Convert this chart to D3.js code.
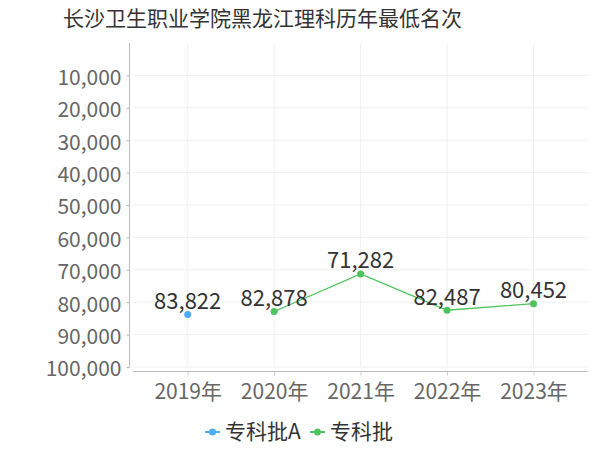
<!DOCTYPE html>
<html><head><meta charset="utf-8">
<script src="https://cdn.jsdelivr.net/npm/d3@7/dist/d3.min.js"></script>
<style>body{margin:0;background:#fff;} svg{display:block;}</style>
</head><body><svg id="c" width="600" height="450"></svg>
<script>
const title = "长沙卫生职业学院黑龙江理科历年最低名次";
const categories = ["2019年","2020年","2021年","2022年","2023年"];
const seriesNames = ["专科批A","专科批"];
const seriesA = [83822, null, null, null, null];
const seriesB = [null, 82878, 71282, 82487, 80452];
const yTicks = [10000,20000,30000,40000,50000,60000,70000,80000,90000,100000];
const colors = ["#4dabf7","#4cc35c"];

(function(){
const font = "'Noto Sans CJK SC','DejaVu Sans',sans-serif";
const svg = d3.select("#c");
const pLeft = 133, pRight = 588, pTop = 43, pBottom = 367;

const x = d3.scalePoint().domain(categories).range([187.7, 533.5]);
const y = d3.scaleLinear().domain([0, 100000]).range([pTop, pBottom]);

// title
svg.append("text").attr("x", 63).attr("y", 26).attr("font-size", 21)
  .attr("font-family", font).attr("fill", "#333").text(title);

// grid
const g = svg.append("g");
g.selectAll(".hg").data(yTicks).join("line")
  .attr("x1", pLeft).attr("x2", pRight).attr("y1", d => y(d)).attr("y2", d => y(d))
  .attr("stroke", "#f0f0f0").attr("stroke-width", 1);
g.selectAll(".vg").data(categories).join("line")
  .attr("x1", d => x(d)).attr("x2", d => x(d)).attr("y1", pTop).attr("y2", pBottom)
  .attr("stroke", "#f0f0f0").attr("stroke-width", 1);

// y axis
const yAxis = d3.axisLeft(y).tickValues(yTicks).tickSize(3).tickPadding(5)
  .tickFormat(d3.format(","));
const ya = svg.append("g").attr("transform", "translate(129.5,0)").call(yAxis);
ya.select(".domain").attr("stroke", "#bbb").attr("d", `M0,${pTop}V${pBottom}`);
ya.selectAll(".tick line").attr("stroke", "#bbb");
ya.selectAll(".tick text").attr("font-size", 21).attr("font-family", font)
  .attr("fill", "#666").attr("dy", "0.42em");

// x axis
const xAxis = d3.axisBottom(x).tickSize(4).tickPadding(8.5);
const xa = svg.append("g").attr("transform", "translate(0,371.5)").call(xAxis);
xa.select(".domain").attr("stroke", "#bbb").attr("d", `M${pLeft},0H${pRight}`);
xa.selectAll(".tick line").attr("stroke", "#ccc");
xa.selectAll(".tick text").attr("font-size", 21).attr("font-family", font).attr("fill", "#666");

// series
const allSeries = [seriesA, seriesB];
allSeries.forEach((vals, i) => {
  const pts = categories.map((c, j) => ({c, v: vals[j]})).filter(p => p.v != null);
  const line = d3.line().x(p => x(p.c)).y(p => y(p.v));
  svg.append("path").datum(pts).attr("d", line).attr("fill", "none")
    .attr("stroke", colors[i]).attr("stroke-width", 1.3);
  svg.selectAll(null).data(pts).join("circle")
    .attr("cx", p => x(p.c)).attr("cy", p => y(p.v)).attr("r", 3.5).attr("fill", colors[i]);
  svg.selectAll(null).data(pts).join("text")
    .attr("x", p => x(p.c)).attr("y", p => y(p.v) - 5.5)
    .attr("text-anchor", "middle").attr("font-size", 22).attr("font-family", font)
    .attr("fill", "#333").text(p => d3.format(",")(p.v));
});

// legend
const legendX = [205, 310];
seriesNames.forEach((n, i) => {
  const lg = svg.append("g").attr("transform", `translate(${legendX[i]},432)`);
  lg.append("line").attr("x1", 0).attr("x2", 15).attr("stroke", colors[i]).attr("stroke-width", 2);
  lg.append("circle").attr("cx", 7.5).attr("r", 3.5).attr("fill", colors[i]);
  lg.append("text").attr("x", 20).attr("y", 7).attr("font-size", 21)
    .attr("font-family", font).attr("fill", "#333").text(n);
});
})();
</script></body></html>
